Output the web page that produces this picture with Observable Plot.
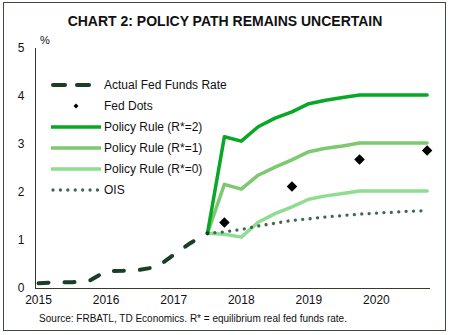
<!DOCTYPE html>
<html>
<head>
<meta charset="utf-8">
<script src="https://cdn.jsdelivr.net/npm/d3@7"></script>
<script src="https://cdn.jsdelivr.net/npm/@observablehq/plot@0.6"></script>
<style>
  html, body { margin: 0; padding: 0; background: #fff; }
  body { width: 450px; height: 335px; position: relative; overflow: hidden; font-family: "Liberation Sans", Arial, sans-serif; }
  #frame { position: absolute; left: 3px; top: 2px; width: 441px; height: 327px; border: 1.5px solid #3d4a3d; box-sizing: content-box; }
  #title { position: absolute; left: 0; width: 450px; top: 13px; text-align: center; font-weight: bold; font-size: 14px; color: #111; }
  #chart { position: absolute; left: 0; top: 0; }
  #source { position: absolute; left: 0; width: 386px; top: 313px; text-align: center; font-size: 10px; color: #111; }
  #legend { position: absolute; left: 51px; top: 74px; font-size: 12px; color: #111; }
  .row { height: 21px; display: flex; align-items: center; }
  .row svg { width: 52px; height: 12px; margin-right: 1px; }
  #pct { position: absolute; left: 40px; top: 34px; font-size: 11px; color: #111; }
</style>
</head>
<body>
<div id="frame"></div>
<div id="title">CHART 2: POLICY PATH REMAINS UNCERTAIN</div>
<div id="chart"></div>
<div id="pct">%</div>
<div id="legend"></div>
<div id="source">Source: FRBATL, TD Economics. R* = equilibrium real fed funds rate.</div>
<script>
// ---- data ----
const actualDates = [2015.0, 2015.25, 2015.5, 2015.75, 2016.0, 2016.25, 2016.5, 2016.75, 2017.0, 2017.25, 2017.5];
const actualRate  = [0.11, 0.13, 0.13, 0.16, 0.36, 0.37, 0.39, 0.45, 0.70, 0.95, 1.15];

const ruleDates = [2017.5, 2017.75, 2018.0, 2018.25, 2018.5, 2018.75, 2019.0, 2019.25, 2019.5, 2019.75, 2020.0, 2020.25, 2020.5, 2020.75];
const ruleR2 = [1.15, 3.16, 3.07, 3.37, 3.55, 3.68, 3.85, 3.92, 3.98, 4.03, 4.03, 4.03, 4.03, 4.03];
const ruleR1 = [1.15, 2.17, 2.07, 2.36, 2.53, 2.68, 2.85, 2.92, 2.97, 3.03, 3.03, 3.03, 3.03, 3.03];
const ruleR0 = [1.15, 1.13, 1.07, 1.38, 1.56, 1.70, 1.86, 1.93, 1.98, 2.03, 2.03, 2.03, 2.03, 2.03];
const ois    = [1.15, 1.18, 1.23, 1.30, 1.36, 1.42, 1.45, 1.49, 1.52, 1.55, 1.57, 1.59, 1.61, 1.62];

const dotDates = [2017.75, 2018.75, 2019.75, 2020.75];
const fedDots  = [1.375, 2.125, 2.6875, 2.875];

const yTicks = [0, 1, 2, 3, 4, 5];
const xTicks = [2015, 2016, 2017, 2018, 2019, 2020];

const seriesNames = ["Actual Fed Funds Rate", "Fed Dots", "Policy Rule (R*=2)", "Policy Rule (R*=1)", "Policy Rule (R*=0)", "OIS"];
const colors = {
  actual: "#193f27",
  r2: "#06a824",
  r1: "#7cc96f",
  r0: "#8fdd92",
  ois: "#3b6a52",
  dots: "#000000"
};

// ---- tables ----
const actual = actualDates.map((d, i) => ({x: d, y: actualRate[i]}));
const mk = arr => ruleDates.map((d, i) => ({x: d, y: arr[i]}));
const r2 = mk(ruleR2), r1 = mk(ruleR1), r0 = mk(ruleR0), oisD = mk(ois);
const dots = dotDates.map((d, i) => ({x: d, y: fedDots[i]}));

const diamond = {
  draw(context, size) {
    const r = Math.sqrt(size / 2);
    context.moveTo(0, -r);
    context.lineTo(r, 0);
    context.lineTo(0, r);
    context.lineTo(-r, 0);
    context.closePath();
  }
};

const chart = Plot.plot({
  width: 450,
  height: 335,
  marginLeft: 35,
  marginRight: 20,
  marginTop: 48,
  marginBottom: 47,
  style: {fontFamily: "'Liberation Sans', Arial, sans-serif", fontSize: "12px", color: "#111", background: "transparent"},
  x: {domain: [2014.955, 2020.80], ticks: xTicks, tickFormat: d => String(d), tickSize: 0, tickPadding: 7, label: null},
  y: {domain: [0, 5], ticks: yTicks, tickFormat: d => String(d), tickSize: 0, tickPadding: 11, label: null},
  marks: [
    Plot.ruleX([2014.955], {stroke: "#333", strokeWidth: 1}),
    Plot.ruleY([0], {stroke: "#3a3a2a", strokeWidth: 1.2}),
    Plot.line(r0, {x: "x", y: "y", stroke: colors.r0, strokeWidth: 3.5}),
    Plot.line(r1, {x: "x", y: "y", stroke: colors.r1, strokeWidth: 3.5}),
    Plot.line(r2, {x: "x", y: "y", stroke: colors.r2, strokeWidth: 3.5}),
    Plot.line(oisD, {x: "x", y: "y", stroke: colors.ois, strokeWidth: 3.3, strokeDasharray: "0.01 7.4", strokeLinecap: "round"}),
    Plot.line(actual, {x: "x", y: "y", stroke: colors.actual, strokeWidth: 4, strokeDasharray: "10 16", strokeLinecap: "round"}),
    Plot.dot(dots, {x: "x", y: "y", symbol: diamond, r: 4.2, fill: colors.dots, stroke: "none"})
  ]
});
document.getElementById("chart").appendChild(chart);

// ---- legend ----
const swatches = [
  `<line x1="2" y1="6" x2="14" y2="6" stroke="${colors.actual}" stroke-width="4" stroke-linecap="round"/><line x1="26" y1="6" x2="38" y2="6" stroke="${colors.actual}" stroke-width="4" stroke-linecap="round"/>`,
  `<path d="M25,3.5L27.5,6L25,8.5L22.5,6Z" fill="#000"/>`,
  `<line x1="0" y1="6" x2="50" y2="6" stroke="${colors.r2}" stroke-width="3.5"/>`,
  `<line x1="0" y1="6" x2="50" y2="6" stroke="${colors.r1}" stroke-width="3.5"/>`,
  `<line x1="0" y1="6" x2="50" y2="6" stroke="${colors.r0}" stroke-width="3.5"/>`,
  `<line x1="2" y1="6" x2="50" y2="6" stroke="${colors.ois}" stroke-width="3.3" stroke-dasharray="0.01 7.4" stroke-linecap="round"/>`
];
const leg = document.getElementById("legend");
seriesNames.forEach((name, i) => {
  const row = document.createElement("div");
  row.className = "row";
  row.innerHTML = `<svg viewBox="0 0 52 12">${swatches[i]}</svg><span>${name}</span>`;
  leg.appendChild(row);
});
</script>
</body>
</html>
